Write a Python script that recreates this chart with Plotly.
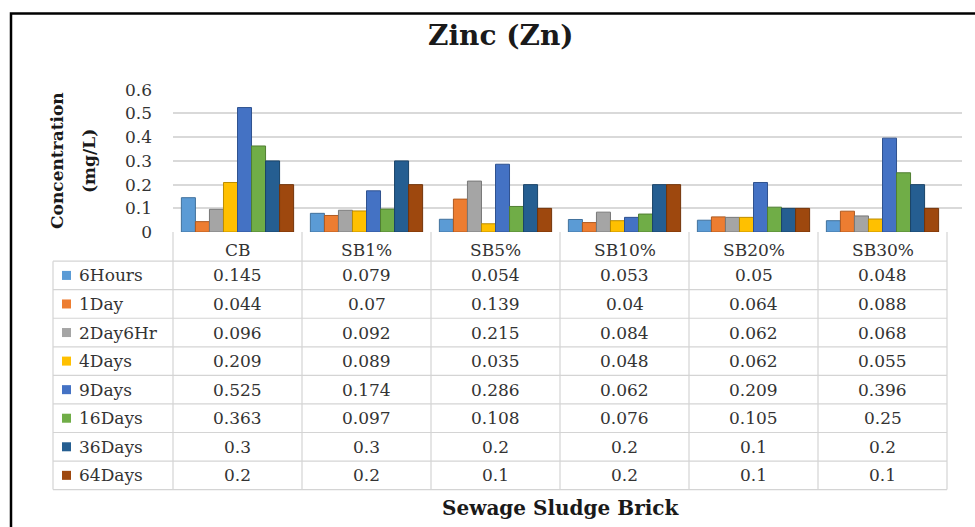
import plotly.graph_objects as go

# ---------------- data ----------------
categories = ["CB", "SB1%", "SB5%", "SB10%", "SB20%", "SB30%"]
series_names = ["6Hours", "1Day", "2Day6Hr", "4Days", "9Days", "16Days", "36Days", "64Days"]
v_6hours = [0.145, 0.079, 0.054, 0.053, 0.05, 0.048]
v_1day = [0.044, 0.07, 0.139, 0.04, 0.064, 0.088]
v_2day6hr = [0.096, 0.092, 0.215, 0.084, 0.062, 0.068]
v_4days = [0.209, 0.089, 0.035, 0.048, 0.062, 0.055]
v_9days = [0.525, 0.174, 0.286, 0.062, 0.209, 0.396]
v_16days = [0.363, 0.097, 0.108, 0.076, 0.105, 0.25]
v_36days = [0.3, 0.3, 0.2, 0.2, 0.1, 0.2]
v_64days = [0.2, 0.2, 0.1, 0.2, 0.1, 0.1]
series_values = [v_6hours, v_1day, v_2day6hr, v_4days, v_9days, v_16days, v_36days, v_64days]
y_ticks = [0, 0.1, 0.2, 0.3, 0.4, 0.5, 0.6]
y_tick_labels = ["0", "0.1", "0.2", "0.3", "0.4", "0.5", "0.6"]

# ---------------- style ----------------
colors = ["#5B9BD5", "#ED7D31", "#A5A5A5", "#FFC000", "#4472C4", "#70AD47", "#255E91", "#9E480E"]
edge = ["#41719C", "#AE5A21", "#787878", "#BC8C00", "#2F528F", "#507E32", "#1A4468", "#733409"]
FONT = "DejaVu Serif"
W, H = 975, 527
# the photographed page is squeezed vertically a little; compensate
VA, VB = 0.96, 10.4


def px(x):
    return x / W


def py(y):
    return 1 - ((y - VB) / VA) / H


plot_left, plot_right, grid_right = 173, 947, 962
y0_px, y6_px = 232, 90
table_left = 53
header_top = 232
header_bottom = 261
row_h = 28.5
TXT = "#333333"

ncol = len(categories)
col_w = (plot_right - plot_left) / ncol

fig = go.Figure()
for name, vals, c, e in zip(series_names, series_values, colors, edge):
    fig.add_trace(go.Bar(name=name, x=categories, y=vals,
                         marker=dict(color=c, line=dict(color=e, width=1))))

fig.update_layout(
    width=W, height=H,
    margin=dict(l=0, r=0, t=0, b=0),
    paper_bgcolor="white", plot_bgcolor="white",
    barmode="group", bargap=0.13, bargroupgap=0.0,
    showlegend=False,
    font=dict(family=FONT, color=TXT),
    xaxis=dict(domain=[px(plot_left), px(grid_right)],
               range=[-0.5, ncol - 0.5 + (grid_right - plot_right) / col_w],
               showticklabels=False,
               showgrid=False, zeroline=False, showline=False, ticks=""),
    yaxis=dict(domain=[py(y0_px), py(y6_px)], range=[0, 0.6],
               tickvals=y_ticks, ticktext=y_tick_labels,
               showgrid=True, gridcolor="#D9D9D9", gridwidth=1.5,
               zeroline=False, showline=False, ticks="",
               ticklabelstandoff=20,
               tickfont=dict(family=FONT, size=17, color=TXT)),
)

shapes = []
annotations = []


def note(x, y, text, size, color=TXT, xanchor="center", angle=0):
    annotations.append(dict(xref="paper", yref="paper", x=px(x), y=py(y), text=text,
                            showarrow=False, xanchor=xanchor, yanchor="middle",
                            textangle=angle, font=dict(family=FONT, size=size, color=color)))


# outer frame
shapes.append(dict(type="rect", xref="paper", yref="paper",
                   x0=px(11), x1=px(990), y0=py(14), y1=-0.1,
                   line=dict(color="black", width=2.5), fillcolor="rgba(0,0,0,0)"))

nrows = len(series_names)
table_bottom = header_bottom + nrows * row_h
line_col = "#D4D4D4"

# vertical lines
for i in range(ncol + 1):
    xx = plot_left + i * col_w
    shapes.append(dict(type="line", xref="paper", yref="paper",
                       x0=px(xx), x1=px(xx), y0=py(header_top), y1=py(table_bottom),
                       line=dict(color=line_col, width=1.2)))
shapes.append(dict(type="line", xref="paper", yref="paper",
                   x0=px(table_left), x1=px(table_left), y0=py(header_bottom), y1=py(table_bottom),
                   line=dict(color=line_col, width=1.2)))
# horizontal lines
for r in range(nrows + 1):
    yy = header_bottom + r * row_h
    shapes.append(dict(type="line", xref="paper", yref="paper",
                       x0=px(table_left), x1=px(plot_right), y0=py(yy), y1=py(yy),
                       line=dict(color=line_col, width=1.2)))

# header labels
for i, cat in enumerate(categories):
    note(plot_left + (i + 0.5) * col_w, 250, cat, 17)

# rows
for r, (name, vals, c) in enumerate(zip(series_names, series_values, colors)):
    yc = header_bottom + (r + 0.5) * row_h
    shapes.append(dict(type="rect", xref="paper", yref="paper",
                       x0=px(62), x1=px(71), y0=py(yc - 4.5), y1=py(yc + 4.5),
                       line=dict(width=0), fillcolor=c))
    note(77, yc, name, 17, xanchor="left")
    for i, v in enumerate(vals):
        note(plot_left + (i + 0.5) * col_w, yc, str(v), 17)

# titles
note(501, 36, "<b>Zinc (Zn)</b>", 28, color="#1a1a1a")
note(560, 507, "<b>Sewage Sludge Brick</b>", 20, color="#1a1a1a")
note(57, 161, "<b>Concentration</b>", 17, color="#1a1a1a", angle=-90)
note(89, 161, "<b>(mg/L)</b>", 17, color="#1a1a1a", angle=-90)

fig.update_layout(shapes=shapes, annotations=annotations)
fig.write_html("out.html", config={"displayModeBar": False},
               post_script="document.body.style.margin='0px';document.body.style.overflow='hidden';")
